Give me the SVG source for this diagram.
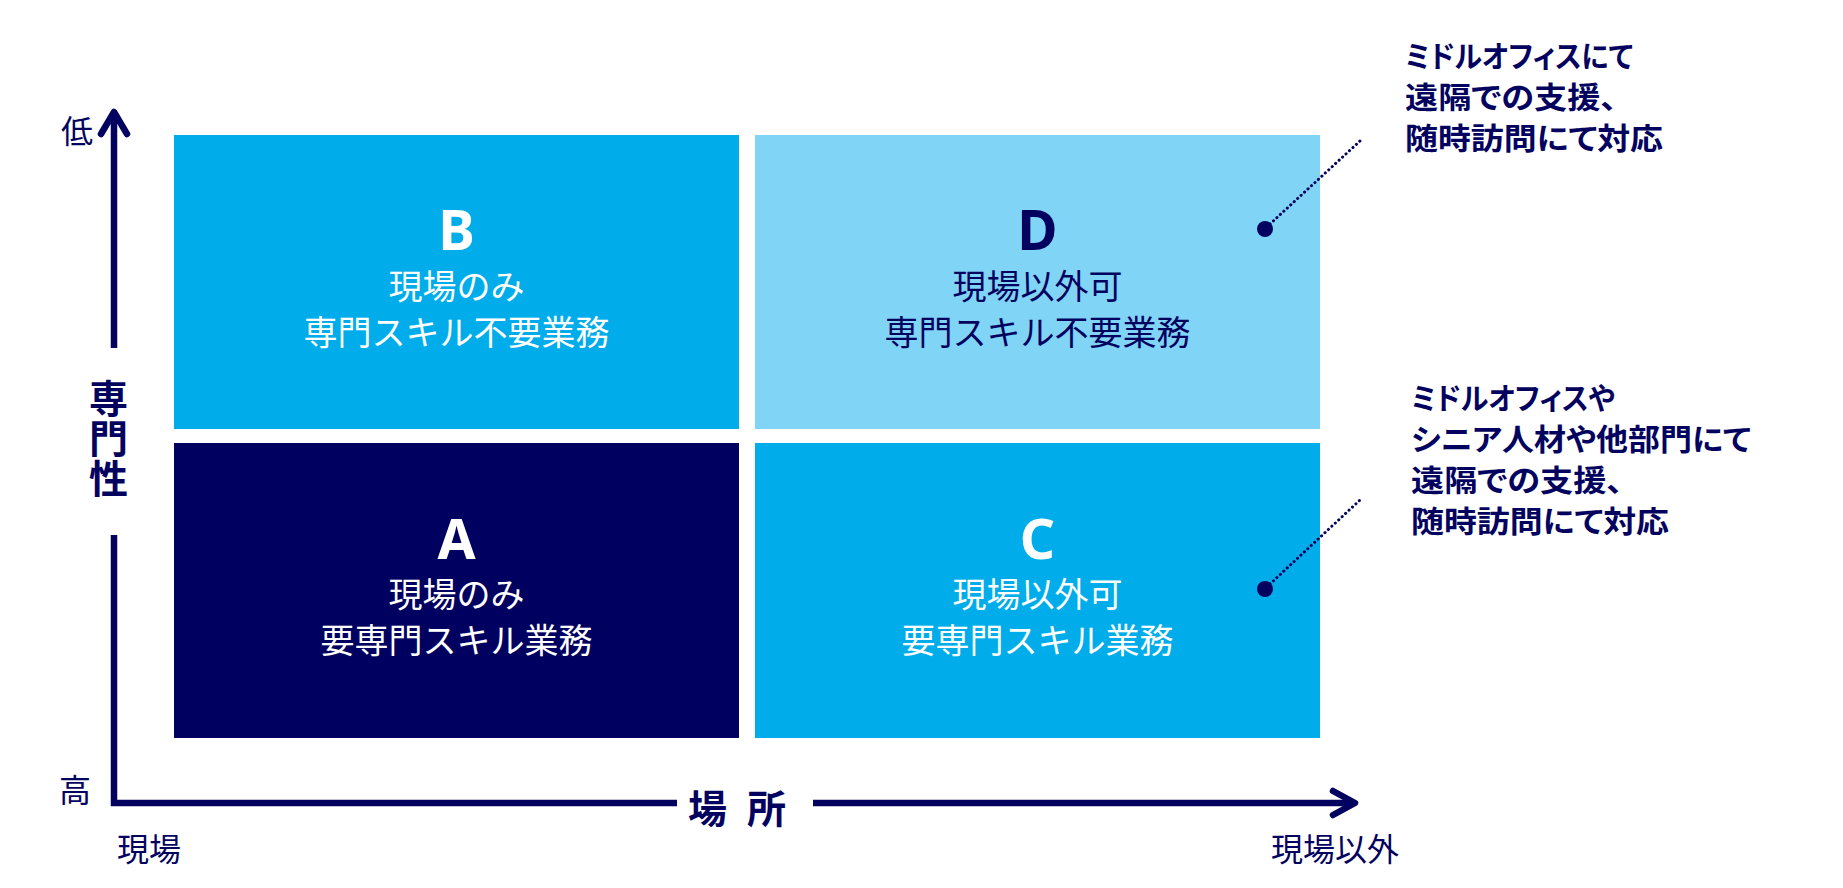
<svg xmlns="http://www.w3.org/2000/svg" width="1843" height="888" viewBox="0 0 1843 888">
<style>
.cell{font-family:"Noto Sans CJK JP",sans-serif;font-size:34px;text-anchor:middle;font-weight:400;}
.letter{font-family:"Noto Sans","Liberation Sans",sans-serif;font-size:55px;font-weight:700;text-anchor:middle;}
.w{fill:#ffffff;}
.n{fill:#03035f;}
.axis{fill:none;stroke:#03035f;stroke-width:6.5;}
.head{fill:none;stroke:#03035f;stroke-width:6.5;stroke-linecap:round;stroke-linejoin:round;}
.dots{fill:none;stroke:#03035f;stroke-width:3;stroke-linecap:round;stroke-dasharray:0.1 4.6;}
.note{font-family:"Noto Sans CJK JP",sans-serif;font-size:30px;font-weight:700;fill:#03035f;font-feature-settings:"palt";}
.lbl{font-family:"Noto Sans CJK JP",sans-serif;font-size:32px;font-weight:400;fill:#03035f;}
.ax{font-family:"Noto Sans CJK JP",sans-serif;font-size:39px;font-weight:700;fill:#03035f;}
</style>
<rect width="1843" height="888" fill="#ffffff"/>

<g id="cellB">
<rect x="174" y="135" width="565" height="294" fill="#00adea"/>
<text class="letter w" x="456.5" y="250">B</text>
<text class="cell w" x="456.5" y="299">現場のみ<tspan x="456.5" y="345">専門スキル不要業務</tspan></text>
</g>
<g id="cellD">
<rect x="755" y="135" width="565" height="294" fill="#80d4f6"/>
<text class="letter n" x="1037.5" y="250">D</text>
<text class="cell n" x="1037.5" y="299">現場以外可<tspan x="1037.5" y="345">専門スキル不要業務</tspan></text>
</g>
<g id="cellA">
<rect x="174" y="443" width="565" height="295" fill="#000060"/>
<text class="letter w" x="456.5" y="559">A</text>
<text class="cell w" x="456.5" y="607">現場のみ<tspan x="456.5" y="653">要専門スキル業務</tspan></text>
</g>
<g id="cellC">
<rect x="755" y="443" width="565" height="295" fill="#00adea"/>
<text class="letter w" x="1037.5" y="559">C</text>
<text class="cell w" x="1037.5" y="607">現場以外可<tspan x="1037.5" y="653">要専門スキル業務</tspan></text>
</g>

<g id="connectors">
<line class="axis" x1="114" y1="348" x2="114" y2="114"/>
<polyline class="head" points="101,134 114,112 127,134"/>
<polyline class="axis" points="114,535 114,803 677,803" stroke-linejoin="miter"/>
<line class="axis" x1="813" y1="803" x2="1352" y2="803"/>
<polyline class="head" points="1333,791 1355,803 1333,815"/>
<line class="dots" x1="1270" y1="224" x2="1360" y2="141"/>
<line class="dots" x1="1270" y1="584" x2="1360" y2="500"/>
</g>

<g id="dot1"><circle cx="1265" cy="229" r="8" fill="#03035f"/></g>
<g id="dot2"><circle cx="1265" cy="589" r="8" fill="#03035f"/></g>

<g id="axisY">
<text class="lbl" x="61" y="143">低</text>
<text class="lbl" x="59" y="802">高</text>
<text class="ax" x="108.5" y="379" letter-spacing="1" style="writing-mode:vertical-rl">専門性</text>
</g>
<g id="axisX">
<text class="lbl" x="117" y="861" font-size="33">現場</text>
<text class="lbl" x="1271" y="861" font-size="33">現場以外</text>
<text class="ax" x="688" y="823" letter-spacing="20">場所</text>
</g>

<g id="note1">
<text class="note" x="1405" y="66.5"><tspan textLength="228" lengthAdjust="spacingAndGlyphs">ミドルオフィスにて</tspan><tspan x="1405" y="107.5" textLength="212" lengthAdjust="spacingAndGlyphs">遠隔での支援、</tspan><tspan x="1405" y="148.5" textLength="258" lengthAdjust="spacingAndGlyphs">随時訪問にて対応</tspan></text>
</g>
<g id="note2">
<text class="note" x="1411" y="408.5"><tspan textLength="204" lengthAdjust="spacingAndGlyphs">ミドルオフィスや</tspan><tspan x="1411" y="449.5" textLength="340" lengthAdjust="spacingAndGlyphs">シニア人材や他部門にて</tspan><tspan x="1411" y="490.5" textLength="212" lengthAdjust="spacingAndGlyphs">遠隔での支援、</tspan><tspan x="1411" y="531.5" textLength="258" lengthAdjust="spacingAndGlyphs">随時訪問にて対応</tspan></text>
</g>
</svg>
